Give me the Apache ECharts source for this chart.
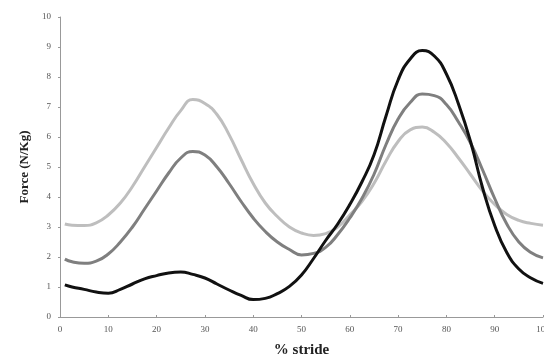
<!DOCTYPE html>
<html>
<head>
<meta charset="utf-8">
<script src="https://cdn.jsdelivr.net/npm/echarts@6/dist/echarts.min.js"></script>
<style>
html,body{margin:0;padding:0;background:#fff;}
#chart{width:544px;height:358px;}
</style>
</head>
<body>
<div id="chart"></div>
<script>
var stride = [1,2.5,5,7.5,10,12.5,15,17.5,20,22.5,25,27.5,30,32.5,35,37.5,40,42.5,45,47.5,50,52.5,55,57.5,60,62.5,65,67.5,70,72.5,75,77.5,80,82.5,85,87.5,90,92.5,95,97.5,100];
var lightSeries = [3.10,3.06,3.05,3.14,3.4,3.8,4.35,5.0,5.65,6.3,6.88,7.25,7.12,6.75,6.08,5.25,4.45,3.8,3.35,3.0,2.8,2.72,2.78,3.0,3.4,3.85,4.45,5.2,5.85,6.24,6.33,6.16,5.8,5.3,4.75,4.2,3.75,3.42,3.22,3.12,3.06];
var midSeries = [1.93,1.84,1.79,1.86,2.1,2.5,3.0,3.6,4.2,4.8,5.3,5.52,5.4,5.0,4.45,3.85,3.3,2.85,2.5,2.25,2.07,2.12,2.32,2.75,3.3,3.95,4.75,5.75,6.6,7.15,7.43,7.38,7.08,6.5,5.8,4.9,3.95,3.1,2.5,2.15,1.97];
var darkSeries = [1.07,1.0,0.92,0.83,0.79,0.92,1.1,1.27,1.38,1.47,1.5,1.42,1.3,1.1,0.9,0.72,0.58,0.62,0.78,1.02,1.4,1.95,2.55,3.1,3.75,4.5,5.4,6.7,7.9,8.6,8.88,8.7,8.1,7.1,5.85,4.3,3.05,2.15,1.6,1.3,1.12];
var xTicks = [0,10,20,30,40,50,60,70,80,90,100];
var yTicks = [0,1,2,3,4,5,6,7,8,9,10];

function pairs(vals){ return stride.map(function(x,i){ return [x, vals[i]]; }); }

var serif = '"Liberation Serif","DejaVu Serif",serif';
var chart = echarts.init(document.getElementById('chart'));
function mkSeries(vals, color){
  return {type:'line', data:pairs(vals), smooth:0.5, showSymbol:false, symbol:'none',
    lineStyle:{color:color, width:3}, itemStyle:{color:color}, z: 2};
}
chart.setOption({
  animation:false,
  backgroundColor:'#fff',
  grid:{left:60, right:1, top:17, bottom:41, containLabel:false, outerBoundsMode:'none'},
  xAxis:{type:'value', min:xTicks[0], max:xTicks[xTicks.length-1], interval:10,
    name:'% stride', nameLocation:'middle', nameGap:26,
    nameTextStyle:{fontFamily:serif, fontWeight:'bold', fontSize:15, color:'#222'},
    axisLine:{lineStyle:{color:'#999', width:1}},
    axisTick:{show:true, inside:true, length:2, lineStyle:{color:'#999'}},
    axisLabel:{fontFamily:serif, fontSize:9, color:'#555', margin:8, hideOverlap:false},
    splitLine:{show:false}},
  yAxis:{type:'value', min:yTicks[0], max:yTicks[yTicks.length-1], interval:1,
    name:'Force (N/Kg)', nameLocation:'middle', nameGap:27, nameRotate:90,
    nameTextStyle:{fontFamily:serif, fontWeight:'bold', fontSize:13, color:'#222'},
    axisLine:{show:true, lineStyle:{color:'#999', width:1}},
    axisTick:{show:true, length:2, lineStyle:{color:'#999'}},
    axisLabel:{fontFamily:serif, fontSize:9, color:'#555', margin:9},
    splitLine:{show:false}},
  series:[
    mkSeries(lightSeries, '#bebebe'),
    mkSeries(midSeries, '#7f7f7f'),
    mkSeries(darkSeries, '#111111')
  ]
});
</script>
</body>
</html>
